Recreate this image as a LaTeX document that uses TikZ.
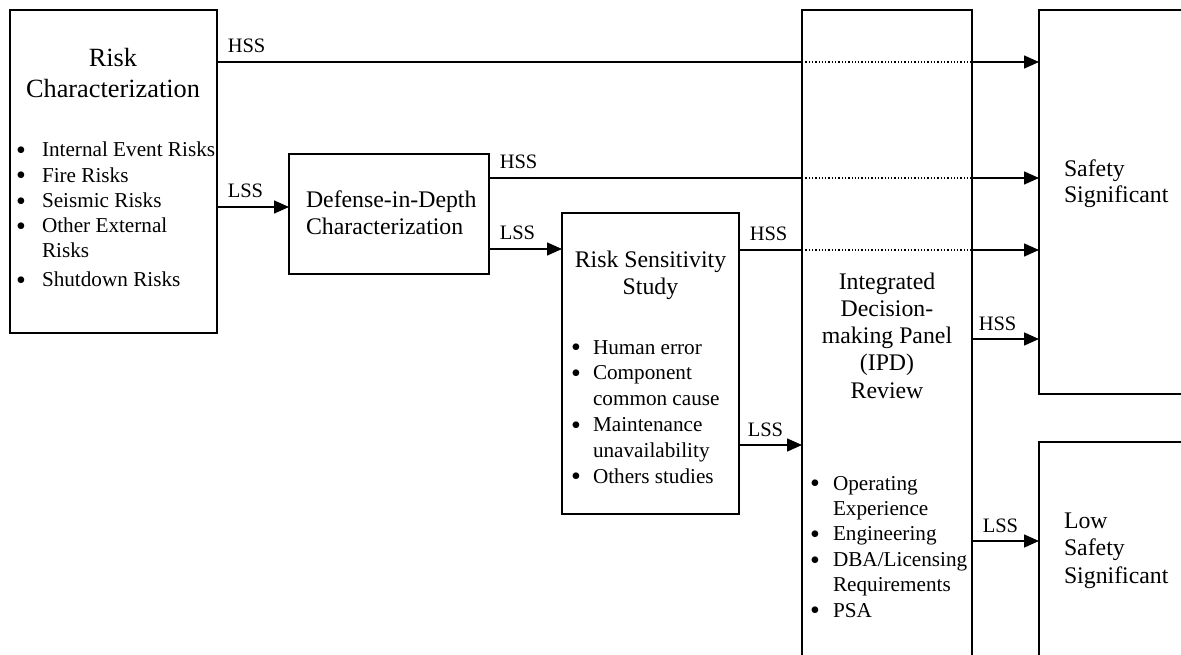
\documentclass[tikz,border=0pt]{standalone}
\usepackage{fontspec}
\setmainfont{Liberation Serif}
\usetikzlibrary{arrows.meta}
% bullet centred at the current point, followed by a fixed indent
\newcommand{\bulw}[1]{\makebox[#1][l]{\makebox[0pt][c]{\smash{\raisebox{-2.8pt}{\fontsize{28}{0}\selectfont\textbullet}}}}}

\begin{document}
\begin{tikzpicture}[x=1pt,y=-1pt,
  box/.style={draw, line width=1.8pt, inner sep=0pt, outer sep=0pt, anchor=north west},
  flow/.style={line width=1.5pt},
  arr/.style={flow, -{Triangle[length=15pt,width=13pt]}},
  gapline/.style={line width=1.3pt, dotted},
  tag/.style={pos=0, anchor=base west, inner sep=0pt, xshift=10pt, yshift=9pt,
              font=\fontsize{20.5}{24}\selectfont},
  txt/.style={inner sep=0pt, outer sep=0pt},
]
\useasboundingbox (0,0) rectangle (1181,655);
\clip (0,0) rectangle (1181,655);

% boxes
\node[box, minimum width=207pt, minimum height=323pt] (rc)  at (10,10)   {};
\node[box, minimum width=200pt, minimum height=120pt] (did) at (289,154) {};
\node[box, minimum width=177pt, minimum height=301pt] (rss) at (562,213) {};
\node[box, minimum width=170pt, minimum height=700pt] (ipd) at (802,10)  {};
\node[box, minimum width=170pt, minimum height=384pt] (ss)  at (1039,10) {};
\node[box, minimum width=170pt, minimum height=260pt] (lss) at (1039,442) {};

% box texts
\node[txt, anchor=base] (rct) at (113,67)
  {\fontsize{26.3}{31}\selectfont\begin{tabular}[t]{@{}c@{}}Risk\\Characterization\end{tabular}};
\node[txt, anchor=base west] (rcl) at (21,157)
  {\fontsize{21.2}{25.2}\selectfont\begin{tabular}[t]{@{}l@{}l@{}}
   \bulw{21pt}&Internal Event Risks\\
   \bulw{21pt}&Fire Risks\\
   \bulw{21pt}&Seismic Risks\\
   \bulw{21pt}&Other External\\
   &Risks\\[3.5pt]
   \bulw{21pt}&Shutdown Risks
  \end{tabular}};

\node[txt, anchor=base west] (didt) at (306,208)
  {\fontsize{23.8}{27}\selectfont\begin{tabular}[t]{@{}l@{}}Defense-in-Depth\\Characterization\end{tabular}};

\node[txt, anchor=base] (rsst) at (650.5,268)
  {\fontsize{23.8}{27}\selectfont\begin{tabular}[t]{@{}c@{}}Risk Sensitivity\\Study\end{tabular}};
\node[txt, anchor=base west] (rssl) at (576,354)
  {\fontsize{21.2}{25.8}\selectfont\begin{tabular}[t]{@{}l@{}l@{}}
   \bulw{17pt}&Human error\\
   \bulw{17pt}&Component\\
   &common cause\\
   \bulw{17pt}&Maintenance\\
   &unavailability\\
   \bulw{17pt}&Others studies
  \end{tabular}};

\node[txt, anchor=base] (ipdt) at (887,289)
  {\fontsize{23.8}{27.25}\selectfont\begin{tabular}[t]{@{}c@{}}Integrated\\Decision-\\making Panel\\(IPD)\\Review\end{tabular}};
\node[txt, anchor=base west] (ipdl) at (815,490)
  {\fontsize{21.2}{25.4}\selectfont\begin{tabular}[t]{@{}l@{}l@{}}
   \bulw{18pt}&Operating\\
   &Experience\\
   \bulw{18pt}&Engineering\\
   \bulw{18pt}&DBA/Licensing\\
   &Requirements\\
   \bulw{18pt}&PSA
  \end{tabular}};

\node[txt, anchor=base west] (sst) at (1064,177)
  {\fontsize{23.8}{26}\selectfont\begin{tabular}[t]{@{}l@{}}Safety\\Significant\end{tabular}};
\node[txt, anchor=base west] (lsst) at (1064,528)
  {\fontsize{23.8}{27.5}\selectfont\begin{tabular}[t]{@{}l@{}}Low\\Safety\\Significant\end{tabular}};

% HSS paths passing behind the IPD review
\draw[flow] (rc.east |- 0,62) -- node[tag] (h1) {HSS} (ipd.west |- 0,62);
\draw[gapline] (ipd.west |- 0,62) -- (ipd.east |- 0,62);
\draw[arr] (ipd.east |- 0,62) -- (ss.west |- 0,62);

\draw[flow] (did.east |- 0,178) -- node[tag] (h2) {HSS} (ipd.west |- 0,178);
\draw[gapline] (ipd.west |- 0,178) -- (ipd.east |- 0,178);
\draw[arr] (ipd.east |- 0,178) -- (ss.west |- 0,178);

\draw[flow] (rss.east |- 0,250) -- node[tag] (h3) {HSS} (ipd.west |- 0,250);
\draw[gapline] (ipd.west |- 0,250) -- (ipd.east |- 0,250);
\draw[arr] (ipd.east |- 0,250) -- (ss.west |- 0,250);

% LSS paths
\draw[arr] (rc.east |- 0,207) -- node[tag] (l1) {LSS} (did.west |- 0,207);
\draw[arr] (did.east |- 0,249) -- node[tag] (l2) {LSS} (rss.west |- 0,249);
\draw[arr] (rss.east |- 0,445) -- node[tag, xshift=-2pt] (l3) {LSS} (ipd.west |- 0,445);

% IPD outcomes
\draw[arr] (ipd.east |- 0,339) -- node[tag, xshift=-4pt] (h4) {HSS} (ss.west |- 0,339);
\draw[arr] (ipd.east |- 0,541) -- node[tag] (l4) {LSS} (lss.west |- 0,541);
\end{tikzpicture}
\end{document}
